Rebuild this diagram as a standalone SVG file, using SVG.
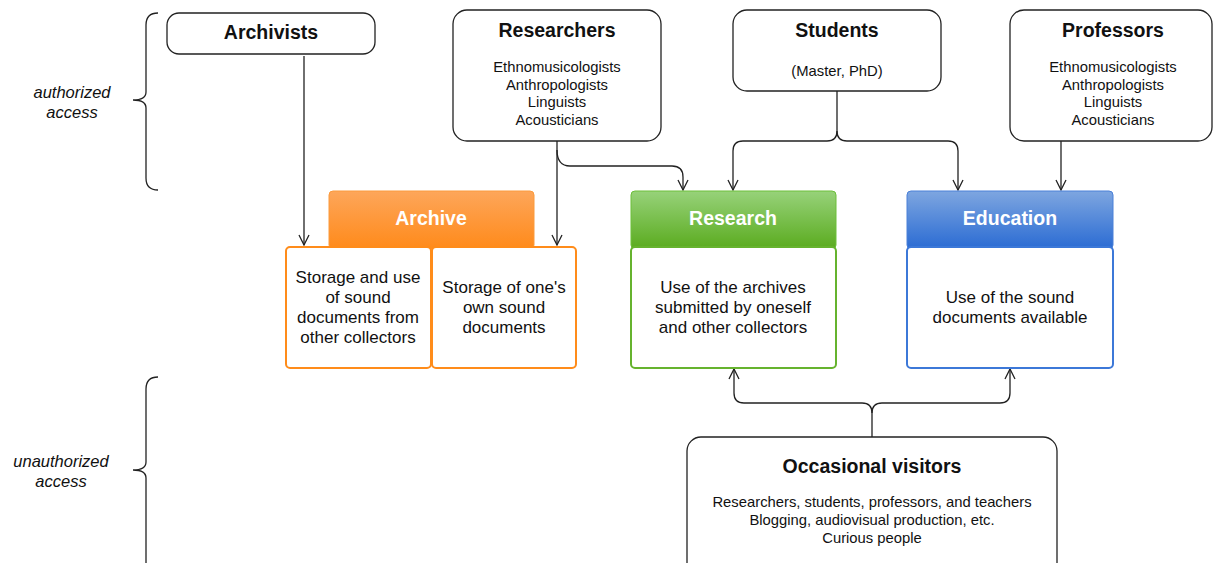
<svg xmlns="http://www.w3.org/2000/svg" width="1213" height="563" viewBox="0 0 1213 563">
<style>
.box{fill:#fff;stroke:#222;stroke-width:1.3}
.t{font-family:"Liberation Sans",Arial,sans-serif;fill:#111;text-anchor:middle}
.b{font-weight:bold;font-size:19.5px}
.s{font-size:14.8px}
.c{font-size:17px}
.h{font-family:"Liberation Sans",Arial,sans-serif;font-weight:bold;font-size:19.5px;fill:#fff;text-anchor:middle}
.i{font-family:"Liberation Sans",Arial,sans-serif;font-style:italic;font-size:16.5px;fill:#111;text-anchor:middle}
.ln{fill:none;stroke:#222;stroke-width:1.3}
</style>
<defs>
<marker id="arr" viewBox="0 0 12 12" refX="11" refY="6" markerWidth="12" markerHeight="12" markerUnits="userSpaceOnUse" orient="auto">
<path d="M1,1 L11,6 L1,11" fill="none" stroke="#222" stroke-width="1.3"/>
</marker>
<linearGradient id="gO" x1="0" y1="0" x2="0" y2="1"><stop offset="0" stop-color="#fda65a"/><stop offset="1" stop-color="#ff8a1a"/></linearGradient>
<linearGradient id="gG" x1="0" y1="0" x2="0" y2="1"><stop offset="0" stop-color="#97d27a"/><stop offset="1" stop-color="#5aab1e"/></linearGradient>
<linearGradient id="gB" x1="0" y1="0" x2="0" y2="1"><stop offset="0" stop-color="#7ea6e0"/><stop offset="1" stop-color="#2a6bd3"/></linearGradient>
</defs>

<g id="braces">
<path class="ln" d="M158,13 Q146,13 146,25 L146,92 Q146,100 133,100 Q146,100 146,108 L146,178 Q146,190 158,190"/>
<path class="ln" d="M158,377 Q146,377 146,389 L146,462 Q146,470 133,470 Q146,470 146,478 L146,575"/>
<text class="i" x="72" y="98">authorized</text>
<text class="i" x="72" y="118">access</text>
<text class="i" x="61" y="467">unauthorized</text>
<text class="i" x="61" y="487">access</text>
</g>

<g id="connectors">
<path class="ln" d="M304,56 L304,245" marker-end="url(#arr)"/>
<path class="ln" d="M557,141 L557,245" marker-end="url(#arr)"/>
<path class="ln" d="M557,150 Q557,166 570,166 L672,166 Q683,166 683,177 L683,190" marker-end="url(#arr)"/>
<path class="ln" d="M837,91 L837,131 Q837,141 827,141 L743,141 Q733,141 733,151 L733,190" marker-end="url(#arr)"/>
<path class="ln" d="M837,131 Q837,141 847,141 L948,141 Q958,141 958,151 L958,190" marker-end="url(#arr)"/>
<path class="ln" d="M1061,141 L1061,190" marker-end="url(#arr)"/>
<path class="ln" d="M872,437 L872,413 Q872,403 862,403 L744,403 Q734,403 734,393 L734,369" marker-end="url(#arr)"/>
<path class="ln" d="M872,413 Q872,403 882,403 L1000,403 Q1010,403 1010,393 L1010,369" marker-end="url(#arr)"/>
</g>

<g id="archivists">
<rect class="box" x="167" y="13" width="208" height="41" rx="12"/>
<text class="t b" x="271" y="39">Archivists</text>
</g>

<g id="researchers">
<rect class="box" x="453" y="10" width="208" height="131" rx="14"/>
<text class="t b" x="557" y="37">Researchers</text>
<text class="t s" x="557" y="72">Ethnomusicologists</text>
<text class="t s" x="557" y="89.5">Anthropologists</text>
<text class="t s" x="557" y="107">Linguists</text>
<text class="t s" x="557" y="124.5">Acousticians</text>
</g>

<g id="students">
<rect class="box" x="733" y="10" width="208" height="81" rx="14"/>
<text class="t b" x="837" y="37">Students</text>
<text class="t s" x="837" y="76">(Master, PhD)</text>
</g>

<g id="professors">
<rect class="box" x="1010" y="10" width="202" height="131" rx="14"/>
<text class="t b" x="1113" y="37">Professors</text>
<text class="t s" x="1113" y="72">Ethnomusicologists</text>
<text class="t s" x="1113" y="89.5">Anthropologists</text>
<text class="t s" x="1113" y="107">Linguists</text>
<text class="t s" x="1113" y="124.5">Acousticians</text>
</g>

<g id="archive">
<rect x="329" y="191" width="205" height="58" rx="4" fill="url(#gO)" stroke="#fb9a3c" stroke-width="1"/>
<text class="h" x="431" y="225">Archive</text>
<rect x="286" y="247" width="145" height="121" rx="4" fill="#fff" stroke="#ff8c1a" stroke-width="2"/>
<rect x="432" y="247" width="144" height="121" rx="4" fill="#fff" stroke="#ff8c1a" stroke-width="2"/>
<text class="t c" x="358" y="283">Storage and use</text>
<text class="t c" x="358" y="303">of sound</text>
<text class="t c" x="358" y="323">documents from</text>
<text class="t c" x="358" y="343">other collectors</text>
<text class="t c" x="504" y="293">Storage of one's</text>
<text class="t c" x="504" y="313">own sound</text>
<text class="t c" x="504" y="333">documents</text>
</g>

<g id="research">
<rect x="631" y="191" width="205" height="58" rx="4" fill="url(#gG)" stroke="#6cbf3a" stroke-width="1"/>
<text class="h" x="733" y="225">Research</text>
<rect x="631" y="247" width="205" height="121" rx="4" fill="#fff" stroke="#66b32e" stroke-width="2"/>
<text class="t c" x="733" y="293">Use of the archives</text>
<text class="t c" x="733" y="313">submitted by oneself</text>
<text class="t c" x="733" y="333">and other collectors</text>
</g>

<g id="education">
<rect x="907" y="191" width="206" height="58" rx="4" fill="url(#gB)" stroke="#4a80d8" stroke-width="1"/>
<text class="h" x="1010" y="225">Education</text>
<rect x="907" y="247" width="206" height="121" rx="4" fill="#fff" stroke="#3c78d8" stroke-width="2"/>
<text class="t c" x="1010" y="303">Use of the sound</text>
<text class="t c" x="1010" y="323">documents available</text>
</g>

<g id="visitors">
<rect class="box" x="687" y="437" width="370" height="140" rx="14"/>
<text class="t b" x="872" y="473">Occasional visitors</text>
<text class="t s" x="872" y="507">Researchers, students, professors, and teachers</text>
<text class="t s" x="872" y="525">Blogging, audiovisual production, etc.</text>
<text class="t s" x="872" y="543">Curious people</text>
</g>
</svg>
